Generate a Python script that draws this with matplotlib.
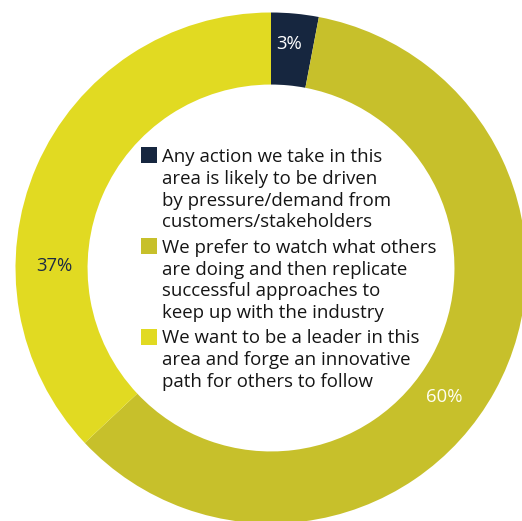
"""Donut chart: approach to action in this area."""

import matplotlib as mpl
import matplotlib.pyplot as plt
import numpy as np

shares = [3, 60, 37]
pct_labels = ["3%", "60%", "37%"]
legend_labels = [
    "Any action we take in this\narea is likely to be driven\nby pressure/demand from\ncustomers/stakeholders",
    "We prefer to watch what others\nare doing and then replicate\nsuccessful approaches to\nkeep up with the industry",
    "We want to be a leader in this\narea and forge an innovative\npath for others to follow",
]

colors = ["#16263f", "#c7c02b", "#e1da22"]
pct_colors = ["white", "#fffff2", "#1c2a44"]
# label placement (degrees, radius) used by the original layout
label_pos = [(85.4, 0.88), (-36.7, 0.845), (179.5, 0.85)]

W, H = 522, 521
CX, CY, R = 271.0, 268.0, 255.5

mpl.rcParams["font.family"] = ["Open Sans", "DejaVu Sans"]

fig = plt.figure(figsize=(W / 100, H / 100), dpi=100)
ax = fig.add_axes([0, 0, 1, 1])
ax.pie(shares, colors=colors, startangle=90, counterclock=False,
       radius=1.0, wedgeprops=dict(width=0.282, linewidth=0))
ax.set_xlim(-CX / R, (W - CX) / R)
ax.set_ylim(-(H - CY) / R, CY / R)
ax.set_aspect("auto")
ax.axis("off")

for lab, col, (ang, rad) in zip(pct_labels, pct_colors, label_pos):
    a = np.deg2rad(ang)
    ax.text(rad * np.cos(a), rad * np.sin(a), lab, ha="center", va="center",
            fontsize=13.3, color=col)

# legend drawn by hand so the swatch sits on the first line
line_h = 21.7
gap = 3.8
sq = 16
base = 162.3
for label, col in zip(legend_labels, colors):
    top = base - 15
    fig.patches.append(mpl.patches.Rectangle(
        (141 / W, 1 - (top + sq) / H), sq / W, sq / H,
        transform=fig.transFigure, facecolor=col, edgecolor="none"))
    for ln in label.split("\n"):
        fig.text(162 / W, 1 - base / H, ln, ha="left", va="baseline",
                 fontsize=13.4, color="#151515")
        base += line_h
    base += gap

fig.savefig("out.png", dpi=100)
